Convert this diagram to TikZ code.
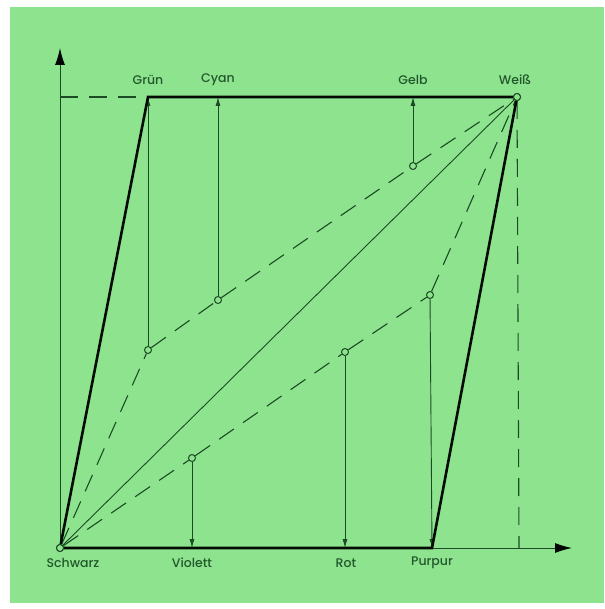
\documentclass[tikz,border=0pt]{standalone}
\usepackage{fontspec}
\setmainfont{Poppins}[UprightFont=* Medium]
\usetikzlibrary{arrows.meta}
\definecolor{bggreen}{RGB}{142,228,142}
\definecolor{ink}{RGB}{28,74,36}
\definecolor{lbltext}{RGB}{34,86,44}

\begin{document}
\begin{tikzpicture}[x=1pt, y=-1pt, >=Latex, font=\fontsize{12.5}{14}\selectfont,
  pt/.style={circle, draw=ink, fill=bggreen, line width=1pt, inner sep=0pt, minimum size=7pt},
  lbl/.style={text=lbltext, inner sep=0pt},
  dsh/.style={ink, line width=1.1pt, dash pattern=on 18pt off 11pt},
  thin/.style={ink, line width=0.9pt},
  bold/.style={black!85!ink, line width=2.6pt},
  up/.style={ink, line width=0.9pt, -{Latex[length=9pt,width=5pt]}},
  axis/.style={ink, line width=1pt, -{Latex[length=17pt,width=10pt,color=black!90!ink]}}]
  \useasboundingbox (0,0) rectangle (604,609);
  \fill[bggreen] (10,7) rectangle (604,603);
  % corners and mixed colours
  \node[pt] (S) at (60,548) {};
  \node[pt] (W) at (517,97) {};
  \node[pt] (Gp) at (148,350) {};
  \node[pt] (Cp) at (218,300) {};
  \node[pt] (Yp) at (413,166) {};
  \node[pt] (Vp) at (192,458) {};
  \node[pt] (Rp) at (345,352) {};
  \node[pt] (Pp) at (430,295) {};
  \coordinate (Gt) at (148,97);
  \coordinate (Ct) at (218,97);
  \coordinate (Yt) at (413,97);
  \coordinate (Vb) at (192,548);
  \coordinate (Rb) at (345,548);
  \coordinate (Pb) at (432,548);
  \coordinate (yend) at (60,48);
  \coordinate (xend) at (572,548);
  \coordinate (ymark) at (60,97);
  \coordinate (xmark) at (519,548);
  % dashed chains
  \draw[dsh] (S) -- (Gp) -- (Cp) -- (Yp) -- (W);
  \draw[dsh] (S) -- (Vp) -- (Rp) -- (Pp) -- (W);
  \draw[dsh] (ymark) -- (Gt);
  \draw[dsh] (W) -- (xmark);
  % grey axis
  \draw[thin] (S) -- (W);
  % projections
  \foreach \p/\q in {Gp/Gt, Cp/Ct, Yp/Yt, Vp/Vb, Rp/Rb, Pp/Pb}
    \draw[up] (\p) -- (\q);
  % axes
  \draw[axis] (S) -- (yend);
  \draw[axis] (S) -- (xend);
  % edges of the gamut
  \draw[bold] (S) -- (Gt) -- (W);
  \draw[bold] (S) -- (Pb) -- (W);
  \node[pt] at (S) {};
  \node[pt] at (W) {};
  % labels
  \foreach \x/\txt in {148/Grün, 218/Cyan, 413/Gelb, 515/Weiß}
    \node[lbl] (t\txt) at (\x,80) {\txt};
  \foreach \x/\txt in {73/Schwarz, 192/Violett, 346/Rot, 432/Purpur}
    \node[lbl] (b\txt) at (\x,563) {\txt};
\end{tikzpicture}
\end{document}
